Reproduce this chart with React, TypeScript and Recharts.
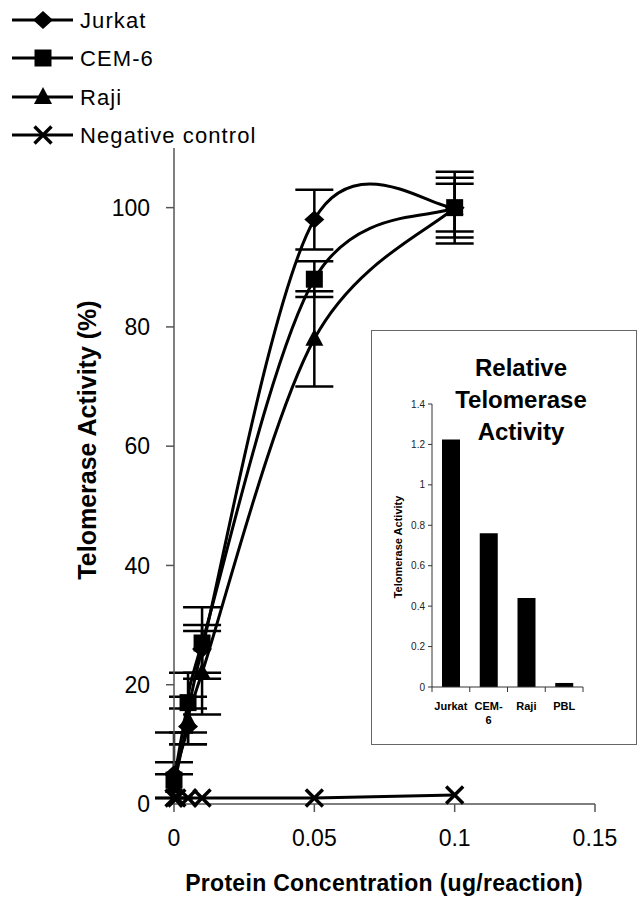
import React from 'react';
import { LineChart, Line, XAxis, YAxis, ErrorBar, BarChart, Bar } from 'recharts';

const FONT = '"Liberation Sans", Arial, Helvetica, sans-serif';

// ---------- main chart data ----------
const xTicks = [0, 0.05, 0.1, 0.15];
const yTicks = [0, 20, 40, 60, 80, 100];

const jurkat = [
  { x: 0, y: 5, err: [4, 7] },
  { x: 0.005, y: 13, err: [3, 3] },
  { x: 0.01, y: 26, err: [4, 4] },
  { x: 0.05, y: 98, err: [5, 5] },
  { x: 0.1, y: 100, err: [5, 5] },
];
const cem6 = [
  { x: 0, y: 4, err: [3, 3] },
  { x: 0.005, y: 17, err: [5, 5] },
  { x: 0.01, y: 27, err: [6, 6] },
  { x: 0.05, y: 88, err: [3, 3] },
  { x: 0.1, y: 100, err: [4, 4] },
];
const raji = [
  { x: 0, y: 3, err: [2, 2] },
  { x: 0.005, y: 14, err: [4, 4] },
  { x: 0.01, y: 22, err: [7, 7] },
  { x: 0.05, y: 78, err: [8, 8] },
  { x: 0.1, y: 100, err: [6, 6] },
];
const negative = [
  { x: 0, y: 1 },
  { x: 0.001, y: 1 },
  { x: 0.005, y: 1 },
  { x: 0.01, y: 1 },
  { x: 0.05, y: 1 },
  { x: 0.1, y: 1.5 },
];

const legendNames = ['Jurkat', 'CEM-6', 'Raji', 'Negative control'];

// ---------- inset data ----------
const insetCategories = ['Jurkat', 'CEM-6', 'Raji', 'PBL'];
const insetValues = [1.225, 0.76, 0.44, 0.02];
const insetTicks = [0, 0.2, 0.4, 0.6, 0.8, 1, 1.2, 1.4];
const insetData = insetCategories.map((name, i) => ({ name, v: insetValues[i] }));

// Excel-like smoothed line (Catmull-Rom style bezier)
function excelSmooth(context: any) {
  let pts: number[][] = [];
  return {
    areaStart() {},
    areaEnd() {},
    lineStart() {
      pts = [];
    },
    point(x: number, y: number) {
      pts.push([+x, +y]);
    },
    lineEnd() {
      const n = pts.length;
      if (!n) return;
      context.moveTo(pts[0][0], pts[0][1]);
      if (n === 2) {
        context.lineTo(pts[1][0], pts[1][1]);
        return;
      }
      for (let i = 0; i < n - 1; i++) {
        const p0 = pts[i - 1] || pts[i];
        const p1 = pts[i];
        const p2 = pts[i + 1];
        const p3 = pts[i + 2] || p2;
        const c1x = p1[0] + (p2[0] - p0[0]) / 6;
        const c1y = p1[1] + (p2[1] - p0[1]) / 6;
        const c2x = p2[0] - (p3[0] - p1[0]) / 6;
        const c2y = p2[1] - (p3[1] - p1[1]) / 6;
        context.bezierCurveTo(c1x, c1y, c2x, c2y, p2[0], p2[1]);
      }
    },
  };
}

// ---------- markers ----------
const diamondPath = (cx: number, cy: number) =>
  `M${cx},${cy - 9}L${cx + 10},${cy}L${cx},${cy + 9}L${cx - 10},${cy}Z`;
const squarePath = (cx: number, cy: number) =>
  `M${cx - 8.5},${cy - 8.5}H${cx + 8.5}V${cy + 8.5}H${cx - 8.5}Z`;
const trianglePath = (cx: number, cy: number) =>
  `M${cx},${cy - 10}L${cx + 9},${cy + 7}L${cx - 9},${cy + 7}Z`;
const crossPath = (cx: number, cy: number) =>
  `M${cx - 8.5},${cy - 8.5}L${cx + 8.5},${cy + 8.5}M${cx + 8.5},${cy - 8.5}L${cx - 8.5},${cy + 8.5}`;

const makeDot = (kind: string) => (p: any) => {
  const { cx, cy, index } = p;
  const key = `${kind}-${index}`;
  if (cx == null || cy == null) return <g key={key} />;
  if (kind === 'x')
    return <path key={key} d={crossPath(cx, cy)} stroke="#000" strokeWidth={3.4} fill="none" />;
  const d = kind === 'd' ? diamondPath(cx, cy) : kind === 's' ? squarePath(cx, cy) : trianglePath(cx, cy);
  return <path key={key} d={d} fill="#000" stroke="none" />;
};

const legendKinds = ['d', 's', 't', 'x'];
const legendY = [20, 58, 97, 135];

function LegendBox() {
  return (
    <svg width={300} height={155} style={{ position: 'absolute', left: 0, top: 0 }}>
      {legendNames.map((name, i) => {
        const cy = legendY[i];
        const cx = 43;
        const k = legendKinds[i];
        return (
          <g key={name}>
            <line x1={12} x2={73} y1={cy} y2={cy} stroke="#000" strokeWidth={3} />
            {k === 'x' ? (
              <path d={crossPath(cx, cy)} stroke="#000" strokeWidth={3.4} fill="none" />
            ) : (
              <path
                d={k === 'd' ? diamondPath(cx, cy) : k === 's' ? squarePath(cx, cy) : trianglePath(cx, cy)}
                fill="#000"
              />
            )}
            <text x={80} y={cy + 8} fontFamily={FONT} fontSize={22} letterSpacing={1.1} fill="#000">
              {name}
            </text>
          </g>
        );
      })}
    </svg>
  );
}

const INSET_W = 266;
const INSET_H = 415;
const INSET_YAXIS_W = 61;
const INSET_RIGHT = 54;
const INSET_BW = (INSET_W - INSET_YAXIS_W - INSET_RIGHT) / insetCategories.length;

function InsetTick(props: any) {
  const { x, y, payload, index } = props;
  const label: string = payload.value;
  const lines = label === 'CEM-6' ? ['CEM-', '6'] : [label];
  const ay = y - 8;
  return (
    <g>
      <line x1={x - INSET_BW / 2} x2={x - INSET_BW / 2} y1={ay} y2={ay + 5} stroke="#333" strokeWidth={1} />
      {index === insetCategories.length - 1 && (
        <line x1={x + INSET_BW / 2} x2={x + INSET_BW / 2} y1={ay} y2={ay + 5} stroke="#333" strokeWidth={1} />
      )}
      <text x={x} y={y + 15} textAnchor="middle" fontFamily={FONT} fontSize={11} fontWeight="bold" fill="#000">
        {lines.map((l, i) => (
          <tspan key={i} x={x} dy={i === 0 ? 0 : 14}>
            {l}
          </tspan>
        ))}
      </text>
    </g>
  );
}

function Inset() {
  return (
    <div
      style={{
        position: 'absolute',
        left: 371,
        top: 330,
        width: INSET_W,
        height: INSET_H,
        border: '1.5px solid #666',
        boxSizing: 'border-box',
        background: '#fff',
      }}
    >
      <div style={{ position: 'absolute', left: -1.5, top: -1.5 }}>
        <BarChart
          width={INSET_W}
          height={INSET_H}
          data={insetData}
          margin={{ top: 74, right: INSET_RIGHT, bottom: 0, left: 0 }}
        >
          <XAxis
            dataKey="name"
            height={58}
            tickLine={false}
            axisLine={{ stroke: '#333', strokeWidth: 1 }}
            tick={<InsetTick />}
            interval={0}
          />
          <YAxis
            domain={[0, 1.4]}
            ticks={insetTicks}
            width={INSET_YAXIS_W}
            tickSize={4}
            tickMargin={3}
            interval={0}
            axisLine={{ stroke: '#333', strokeWidth: 1 }}
            tickLine={{ stroke: '#333', strokeWidth: 1 }}
            tick={{ fontSize: 10, fill: '#222', fontFamily: FONT }}
            label={{
              content: () => (
                <text
                  x={31}
                  y={217}
                  transform="rotate(-90, 31, 217)"
                  textAnchor="middle"
                  fontFamily={FONT}
                  fontSize={11}
                  fontWeight="bold"
                  fill="#000"
                >
                  Telomerase Activity
                </text>
              ),
            }}
          />
          <Bar dataKey="v" fill="#000" barSize={18} isAnimationActive={false} />
        </BarChart>
        <svg width={INSET_W} height={120} style={{ position: 'absolute', left: 0, top: 0 }}>
          {['Relative', 'Telomerase', 'Activity'].map((t, i) => (
            <text
              key={t}
              x={150}
              y={46 + i * 32}
              textAnchor="middle"
              fontFamily={FONT}
              fontSize={24}
              fontWeight="bold"
              fill="#000"
            >
              {t}
            </text>
          ))}
        </svg>
      </div>
    </div>
  );
}

export default function App() {
  return (
    <div style={{ position: 'absolute', left: 0, top: 0, width: 642, height: 900, background: '#fff' }}>
      <LineChart width={642} height={900} margin={{ top: 148, right: 47, bottom: 0, left: 0 }}>
        <XAxis
          type="number"
          dataKey="x"
          domain={[0, 0.15]}
          ticks={xTicks}
          tickFormatter={(v: number) => String(v)}
          height={96}
          tickSize={8}
          tickMargin={18}
          axisLine={{ stroke: '#555', strokeWidth: 1.5 }}
          tickLine={{ stroke: '#555', strokeWidth: 1.5 }}
          tick={{ fontSize: 23, fill: '#000', fontFamily: FONT }}
          label={{
            content: () => (
              <text
                x={384}
                y={891}
                textAnchor="middle"
                fontFamily={FONT}
                fontSize={23}
                fontWeight="bold"
                letterSpacing={0.3}
                fill="#000"
              >
                Protein Concentration (ug/reaction)
              </text>
            ),
          }}
        />
        <YAxis
          type="number"
          domain={[0, 110]}
          ticks={yTicks}
          width={174}
          tickSize={8}
          tickMargin={16}
          axisLine={{ stroke: '#555', strokeWidth: 1.5 }}
          tickLine={{ stroke: '#555', strokeWidth: 1.5 }}
          tick={{ fontSize: 23, fill: '#000', fontFamily: FONT }}
          label={{
            content: () => (
              <text
                x={96}
                y={440}
                transform="rotate(-90, 96, 440)"
                textAnchor="middle"
                fontFamily={FONT}
                fontSize={25}
                fontWeight="bold"
                fill="#000"
              >
                Telomerase Activity (%)
              </text>
            ),
          }}
        />
        <Line
          data={negative}
          dataKey="y"
          type="linear"
          stroke="#000"
          strokeWidth={3}
          dot={makeDot('x')}
          activeDot={false}
          isAnimationActive={false}
        />
        <Line
          data={raji}
          dataKey="y"
          type={excelSmooth as any}
          stroke="#000"
          strokeWidth={3}
          dot={makeDot('t')}
          activeDot={false}
          isAnimationActive={false}
        >
          <ErrorBar dataKey="err" width={19} strokeWidth={2.5} stroke="#000" direction="y" />
        </Line>
        <Line
          data={cem6}
          dataKey="y"
          type={excelSmooth as any}
          stroke="#000"
          strokeWidth={3}
          dot={makeDot('s')}
          activeDot={false}
          isAnimationActive={false}
        >
          <ErrorBar dataKey="err" width={19} strokeWidth={2.5} stroke="#000" direction="y" />
        </Line>
        <Line
          data={jurkat}
          dataKey="y"
          type={excelSmooth as any}
          stroke="#000"
          strokeWidth={3}
          dot={makeDot('d')}
          activeDot={false}
          isAnimationActive={false}
        >
          <ErrorBar dataKey="err" width={19} strokeWidth={2.5} stroke="#000" direction="y" />
        </Line>
      </LineChart>
      <LegendBox />
      <Inset />
    </div>
  );
}
